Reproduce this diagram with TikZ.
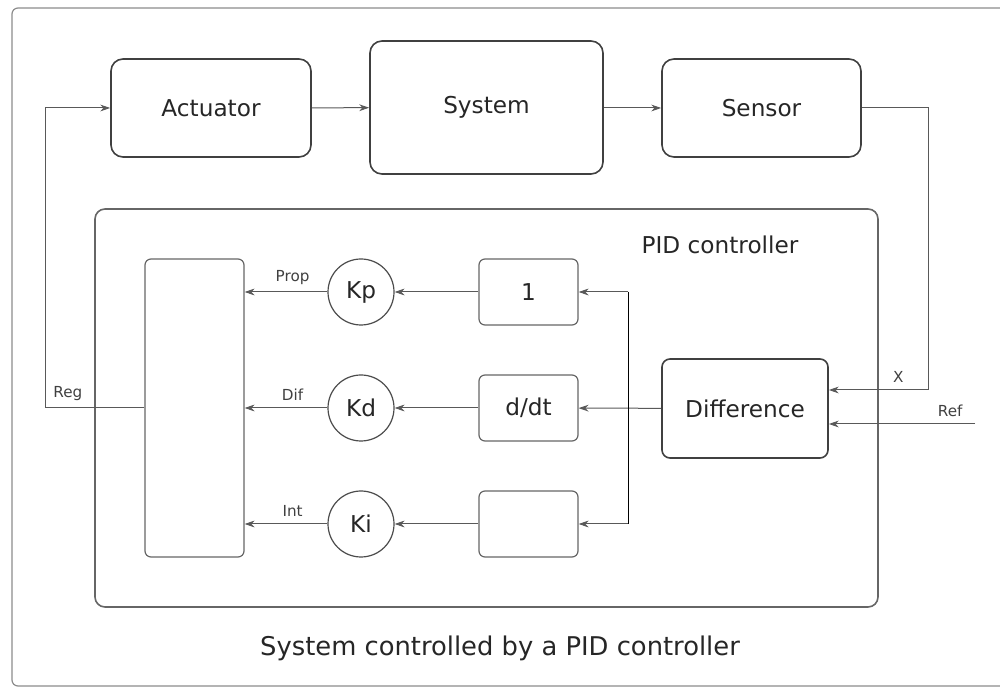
\documentclass[tikz,border=0pt]{standalone}
\usepackage{fontspec}
\setmainfont{DejaVu Sans}
\usetikzlibrary{calc,arrows.meta}

\begin{document}
\begin{tikzpicture}[x=0.5pt,y=-0.5pt,
    box/.style={draw=black!75,line width=0.8pt,rounded corners=6pt,inner sep=0pt,text=black!85,font=\fontsize{11.6}{14}\selectfont},
    sub/.style={draw=black!60,line width=0.6pt,rounded corners=3pt,inner sep=0pt,minimum width=49.5pt,minimum height=33pt,text=black!85,font=\fontsize{11.6}{14}\selectfont},
    gain/.style={circle,draw=black!70,line width=0.6pt,minimum size=33pt,inner sep=0pt,text=black!85,font=\fontsize{11.6}{14}\selectfont},
    sig/.style={-{Stealth[length=5pt,width=3.4pt]},draw=black!65,line width=0.5pt},
    lbl/.style={font=\fontsize{7.6}{9}\selectfont,text=black!75}]
            \useasboundingbox (0,0) rectangle (1000,688);
            % frames
            \draw[draw=black!45,line width=0.6pt,rounded corners=3pt] (1000,8) -- (12,8) -- (12,686) -- (1000,686);
            \draw[draw=black!60,line width=0.8pt,rounded corners=5pt] (95,209) rectangle (878,607);
            \node[text=black!85,font=\fontsize{11.6}{14}\selectfont] (pid) at (720,245) {PID controller};
            % plant
            \node[box,minimum width=100pt,minimum height=49pt] (act) at (211,108) {Actuator};
            \node[box,minimum width=116.5pt,minimum height=66.5pt] (sys) at (486.5,107.5) {System};
            \node[box,minimum width=99.5pt,minimum height=49pt] (sen) at (761.5,108) {Sensor};
            % controller
            \node[box,rounded corners=4pt,minimum width=83pt,minimum height=49.5pt] (diff) at (745,408.5) {Difference};
            \node[sub] (fp) at (528.5,292) {1};
            \node[sub] (fd) at (528.5,408) {d/dt};
            \node[sub] (fi) at (528.5,524) {};
            \node[gain] (kp) at (361,292) {Kp};
            \node[gain] (kd) at (361,408) {Kd};
            \node[gain] (ki) at (361,524) {Ki};
            \node[sub,minimum height=149pt] (sum) at (194.5,408) {};
            \node[font=\fontsize{12.9}{15}\selectfont,text=black!85] (cap) at (500,648) {System controlled by a PID controller};
            % free ends
            \coordinate (fb) at (928,390);
            \coordinate (ref) at (975,424);
            \coordinate (br) at (628,408);
            \coordinate (rg) at (45,408);
            % signals
            \draw[sig] (act) -- (sys);
            \draw[sig] (sys.east |- sen) -- (sen);
            \draw[sig] (sen.east) -| (fb) -- node[lbl,above,pos=0.3]{X} (diff.east |- fb);
            \draw[sig] (ref) -- node[lbl,above,pos=0.17]{Ref} (diff.east |- ref);
            \draw[sig] (diff) -- (fd);
            \draw[sig] (br |- fp) -- (fp);
            \draw (br |- fp) -- (br |- fi);
            \draw[sig] (br |- fi) -- (fi);
            \foreach \r/\t in {p/Prop,d/Dif,i/Int}
                {
                \draw[sig] (f\r) -- (k\r);
                \draw[sig] (k\r) -- node[lbl,above,pos=0.42]{\t} (sum.east |- k\r);
                }
            \draw[sig] (sum.west) -- node[lbl,above,pos=0.77]{Reg} (rg) |- (act.west);
        \end{tikzpicture}
\end{document}
